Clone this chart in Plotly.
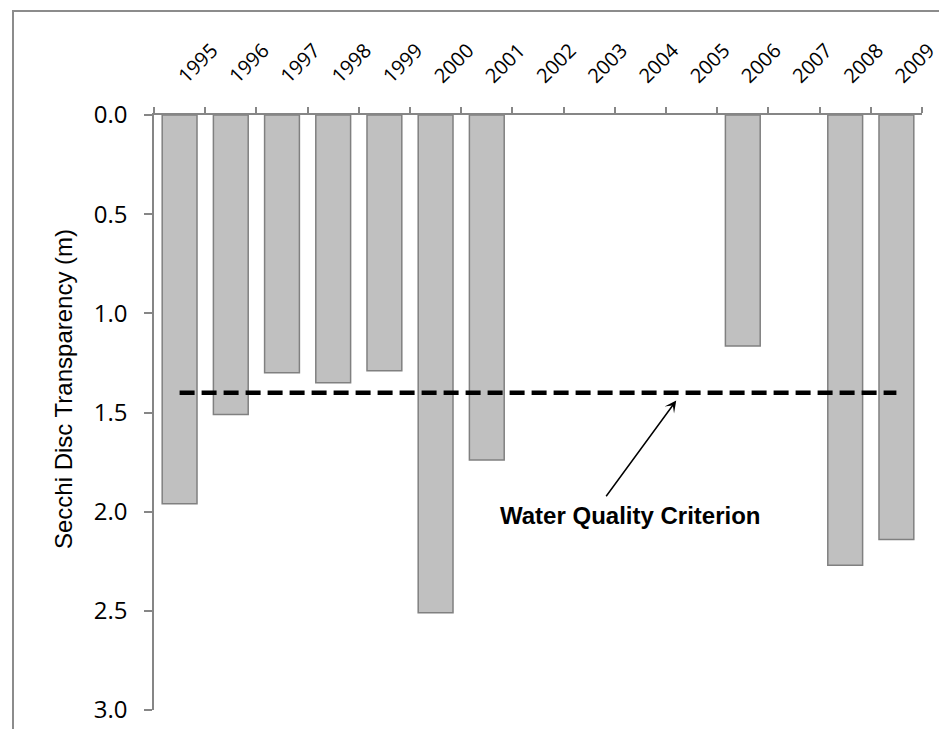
import plotly.graph_objects as go

years = ["1995", "1996", "1997", "1998", "1999", "2000", "2001", "2002",
         "2003", "2004", "2005", "2006", "2007", "2008", "2009"]
secchi = [1.96, 1.51, 1.30, 1.35, 1.29, 2.51, 1.74, None,
          None, None, None, 1.165, None, 2.27, 2.14]
criterion = [1.4] * len(years)
y_ticks = [0.0, 0.5, 1.0, 1.5, 2.0, 2.5, 3.0]

W, H = 947, 729
L, R, T, B = 146, 33, 107, 27
pw, ph = W - L - R, H - T - B


def px(x):
    return (x - L) / pw


def py(y):
    return (H - B - y) / ph


axis_col = "#868686"

fig = go.Figure()
fig.add_trace(go.Bar(
    x=years, y=secchi,
    marker=dict(color="#c0c0c0", line=dict(color="#808080", width=1.5)),
    showlegend=False,
))
fig.add_trace(go.Scatter(
    x=years, y=criterion, mode="lines",
    line=dict(color="black", width=4.5, dash="15px,7px"),
    showlegend=False,
))

fig.update_layout(
    width=W, height=H,
    margin=dict(l=L, r=R, t=T, b=B),
    plot_bgcolor="white", paper_bgcolor="white",
    bargap=0.32,
    xaxis=dict(
        side="top", type="category", tickangle=-45,
        showgrid=False, zeroline=False,
        showline=True, linecolor=axis_col, linewidth=1.5,
        ticks="outside", ticklen=6, tickcolor=axis_col, tickwidth=1.5,
        tickson="boundaries", ticklabelstandoff=18,
        tickfont=dict(family="Open Sans, sans-serif", size=20, color="black"),
    ),
    yaxis=dict(
        range=[3, 0], tickvals=y_ticks, tickformat=".1f",
        showgrid=False, zeroline=False,
        showline=True, linecolor=axis_col, linewidth=1.5,
        ticks="outside", ticklen=8, tickcolor=axis_col, tickwidth=1.5,
        ticklabelstandoff=12,
        tickfont=dict(family="Open Sans, sans-serif", size=24, color="black"),
    ),
    shapes=[dict(
        type="rect", xref="paper", yref="paper",
        x0=px(5), x1=px(943), y0=py(760), y1=py(3),
        line=dict(color="#8c8c8c", width=2), fillcolor="rgba(0,0,0,0)",
        layer="below",
    )],
    annotations=[
        dict(
            text="Secchi Disc Transparency (m)", xref="paper", yref="paper",
            x=px(55), y=py(381), xanchor="center", yanchor="middle",
            textangle=-90, showarrow=False,
            font=dict(family="Liberation Sans Narrow, Arial Narrow, Liberation Sans, sans-serif",
                      size=24, color="black"),
        ),
        dict(
            text="<b>Water Quality Criterion</b>", xref="x", yref="y",
            x=8.8, y=2.02, xanchor="center", yanchor="middle", showarrow=False,
            font=dict(family="Liberation Sans Narrow, Arial Narrow, Liberation Sans, sans-serif",
                      size=24, color="black"),
        ),
        dict(
            text="", xref="x", yref="y", x=9.7, y=1.44,
            axref="x", ayref="y", ax=8.31, ay=1.93,
            showarrow=True, arrowhead=3, arrowsize=1.3, arrowwidth=1.5,
            arrowcolor="black", standoff=0,
        ),
    ],
)

fig.write_html("out.html")
